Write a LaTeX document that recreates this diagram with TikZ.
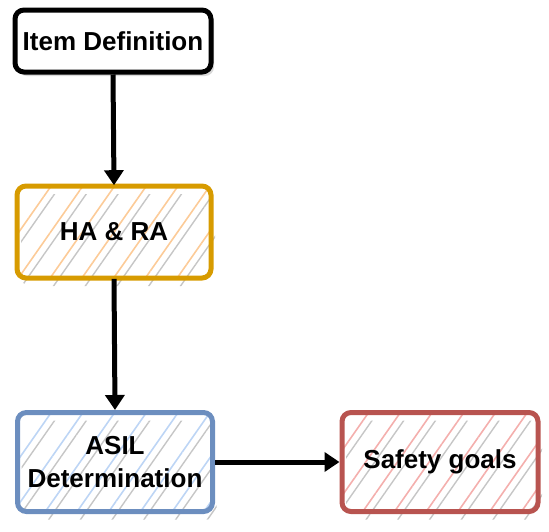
\documentclass[tikz,border=0pt]{standalone}
\usepackage{fontspec}
\setmainfont{Liberation Sans}
\usetikzlibrary{patterns.meta,arrows.meta,shadows}
\definecolor{orangeB}{HTML}{D79B00}
\definecolor{orangeH}{HTML}{FCCB98}
\definecolor{blueB}{HTML}{6C8EBF}
\definecolor{blueH}{HTML}{BDD5F5}
\definecolor{redB}{HTML}{B85450}
\definecolor{redH}{HTML}{F4AFAD}
\begin{document}
\begin{tikzpicture}[x=1pt,y=-1pt,
  box/.style={draw, line width=5pt, rounded corners=9pt, align=center, inner sep=0pt,
    font=\bfseries\fontsize{26}{33}\selectfont},
  hatchshadow/.style={drop shadow={shadow xshift=4pt, shadow yshift=-8pt, draw=none, fill=none, opacity=1,
    pattern={Lines[angle=55,distance=26pt,line width=1.4pt,xshift=9pt]}, pattern color=gray!45}},
  hatch/.style={pattern={Lines[angle=55,distance=26pt,line width=1.6pt]}, pattern color=#1},
  arr/.style={line width=5pt, -{Triangle[length=15pt,width=19pt]}}
]
\useasboundingbox (0,0) rectangle (549,531);
\node[box, fill=white, minimum width=196pt, minimum height=62pt,
  drop shadow={shadow xshift=3pt, shadow yshift=-4pt, opacity=.3, fill=gray}] (item) at (113,41) {Item Definition};
\node[box, draw=orangeB, hatch=orangeH, hatchshadow, minimum width=194pt, minimum height=92pt] (hara) at (114,232) {HA \& RA};
\node[box, draw=blueB, hatch=blueH, hatchshadow, minimum width=195pt, minimum height=99pt] (asil) at (115,462) {ASIL\\Determination};
\node[box, draw=redB, hatch=redH, hatchshadow, minimum width=196pt, minimum height=99pt] (safety) at (440,462) {Safety goals};
\draw[arr] (item.south) -- (hara.north);
\draw[arr] (hara.south) -- (asil.north);
\draw[arr] (asil.east) -- (safety.west);
\end{tikzpicture}
\end{document}
